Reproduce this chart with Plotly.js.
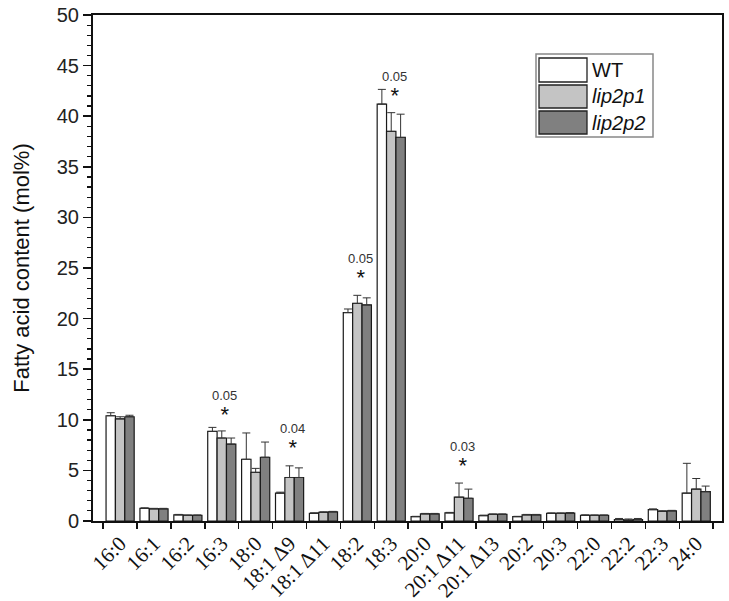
<!DOCTYPE html>
<html>
<head>
<meta charset="utf-8">
<script src="https://cdn.plot.ly/plotly-3.0.1.min.js"></script>
<style>html,body{margin:0;padding:0;background:#fff;}#chart{width:729px;height:601px;}</style>
</head>
<body>
<div id="chart"></div>
<script>
const categories = ["16:0","16:1","16:2","16:3","18:0","18:1 Δ9","18:1 Δ11","18:2","18:3","20:0","20:1 Δ11","20:1 Δ13","20:2","20:3","22:0","22:2","22:3","24:0"];
const seriesNames = ["WT","lip2p1","lip2p2"];
const wtValues     = [10.4, 1.25, 0.6, 8.85, 6.1, 2.75, 0.76, 20.6, 41.2, 0.43, 0.8, 0.53, 0.43, 0.75, 0.56, 0.15, 1.12, 2.75];
const wtErr        = [0.3, 0.05, 0.05, 0.4, 2.6, 0.1, 0.05, 0.35, 1.45, 0.03, 0.05, 0.05, 0.03, 0.05, 0.05, 0.1, 0.08, 2.95];
const lip2p1Values = [10.1, 1.2, 0.55, 8.2, 4.8, 4.3, 0.86, 21.5, 38.5, 0.7, 2.35, 0.65, 0.6, 0.75, 0.55, 0.1, 0.96, 3.15];
const lip2p1Err    = [0.2, 0.05, 0.05, 0.7, 0.4, 1.15, 0.05, 0.8, 1.85, 0.05, 1.4, 0.05, 0.05, 0.05, 0.05, 0.1, 0.05, 1.05];
const lip2p2Values = [10.3, 1.2, 0.55, 7.6, 6.3, 4.3, 0.9, 21.35, 37.9, 0.7, 2.25, 0.65, 0.6, 0.78, 0.55, 0.15, 1.0, 2.9];
const lip2p2Err    = [0.15, 0.05, 0.05, 0.6, 1.5, 0.95, 0.05, 0.7, 2.3, 0.05, 0.9, 0.05, 0.05, 0.05, 0.05, 0.1, 0.05, 0.55];
const seriesColors = ["#ffffff","#c4c4c4","#808080"];
const sigCategories = ["16:3","18:1 Δ9","18:2","18:3","20:1 Δ11"];
const sigPValues = ["0.05","0.04","0.05","0.05","0.03"];
const sigStarLevels = [10.77, 7.5, 24.3, 42.3, 5.7];

const vals = [wtValues, lip2p1Values, lip2p2Values];
const errs = [wtErr, lip2p1Err, lip2p2Err];
const traces = seriesNames.map((n, i) => ({
  type: 'bar', name: n, x: categories, y: vals[i],
  marker: {color: seriesColors[i], line: {color: '#1a1a1a', width: 1.2}},
  error_y: {type: 'data', symmetric: false, array: errs[i], arrayminus: categories.map(() => 0),
            color: '#333', thickness: 1, width: 4},
  showlegend: false
}));

const annotations = [];
sigCategories.forEach((c, i) => {
  annotations.push({x: c, y: sigStarLevels[i], xref: 'x', yref: 'y',
    text: '<span style="font-size:13px;color:#333">' + sigPValues[i] + '</span><br><span style="font-size:22px">*</span>',
    showarrow: false, align: 'center', xshift: 3, yanchor: 'bottom', yshift: -17,
    font: {family: 'Liberation Sans, Arial', size: 17, color: '#111'}});
});

// manual legend (paper coordinates)
const L = 93, W = 629, B = 521, H = 506;
const px = v => (v - L) / W, py = v => (B - v) / H;
const shapes = [{type: 'rect', xref: 'paper', yref: 'paper', x0: px(536), x1: px(653), y0: py(137), y1: py(54),
  line: {color: '#888', width: 1.5}, fillcolor: 'rgba(255,255,255,1)'}];
const swatchY = [[58, 82], [85, 108], [111, 134]];
seriesNames.forEach((n, i) => {
  shapes.push({type: 'rect', xref: 'paper', yref: 'paper', x0: px(539), x1: px(587),
    y0: py(swatchY[i][1]), y1: py(swatchY[i][0]), fillcolor: seriesColors[i], line: {color: '#222', width: 1.3}});
  annotations.push({xref: 'paper', yref: 'paper', x: px(590), y: py((swatchY[i][0] + swatchY[i][1]) / 2),
    xanchor: 'left', yanchor: 'middle', showarrow: false,
    text: i === 0 ? n : '<i>' + n + '</i>', font: {family: 'Liberation Sans, Arial', size: 20, color: '#111'}});
});

const layout = {
  width: 729, height: 601,
  margin: {l: 93, r: 7, t: 15, b: 80},
  paper_bgcolor: '#fff', plot_bgcolor: '#fff',
  barmode: 'group', bargap: 0.17, bargroupgap: 0,
  xaxis: {type: 'category', range: [-0.8, 17.76], tickson: 'boundaries', ticks: 'outside', ticklen: 6,
    tickwidth: 1.5, tickcolor: '#111', showline: true, linecolor: '#111', linewidth: 2, mirror: true,
    tickangle: -45, tickfont: {family: 'Liberation Serif, Times New Roman', size: 21, color: '#111'},
    showgrid: false, zeroline: false},
  yaxis: {range: [0, 50], dtick: 5, ticks: 'outside', ticklen: 8, tickwidth: 1.5, tickcolor: '#111',
    showline: true, linecolor: '#111', linewidth: 2, mirror: true, showgrid: false, zeroline: false,
    minor: {dtick: 1, ticks: 'outside', ticklen: 4, tickwidth: 1.2, tickcolor: '#111', showgrid: false},
    tickfont: {family: 'Liberation Sans, Arial', size: 20, color: '#222'},
    title: {text: 'Fatty acid content (mol%)', font: {family: 'Liberation Sans, Arial', size: 22, color: '#111'}, standoff: 21}},
  annotations: annotations, shapes: shapes, showlegend: false
};
Plotly.newPlot('chart', traces, layout, {displayModeBar: false, staticPlot: true});
</script>
</body>
</html>
